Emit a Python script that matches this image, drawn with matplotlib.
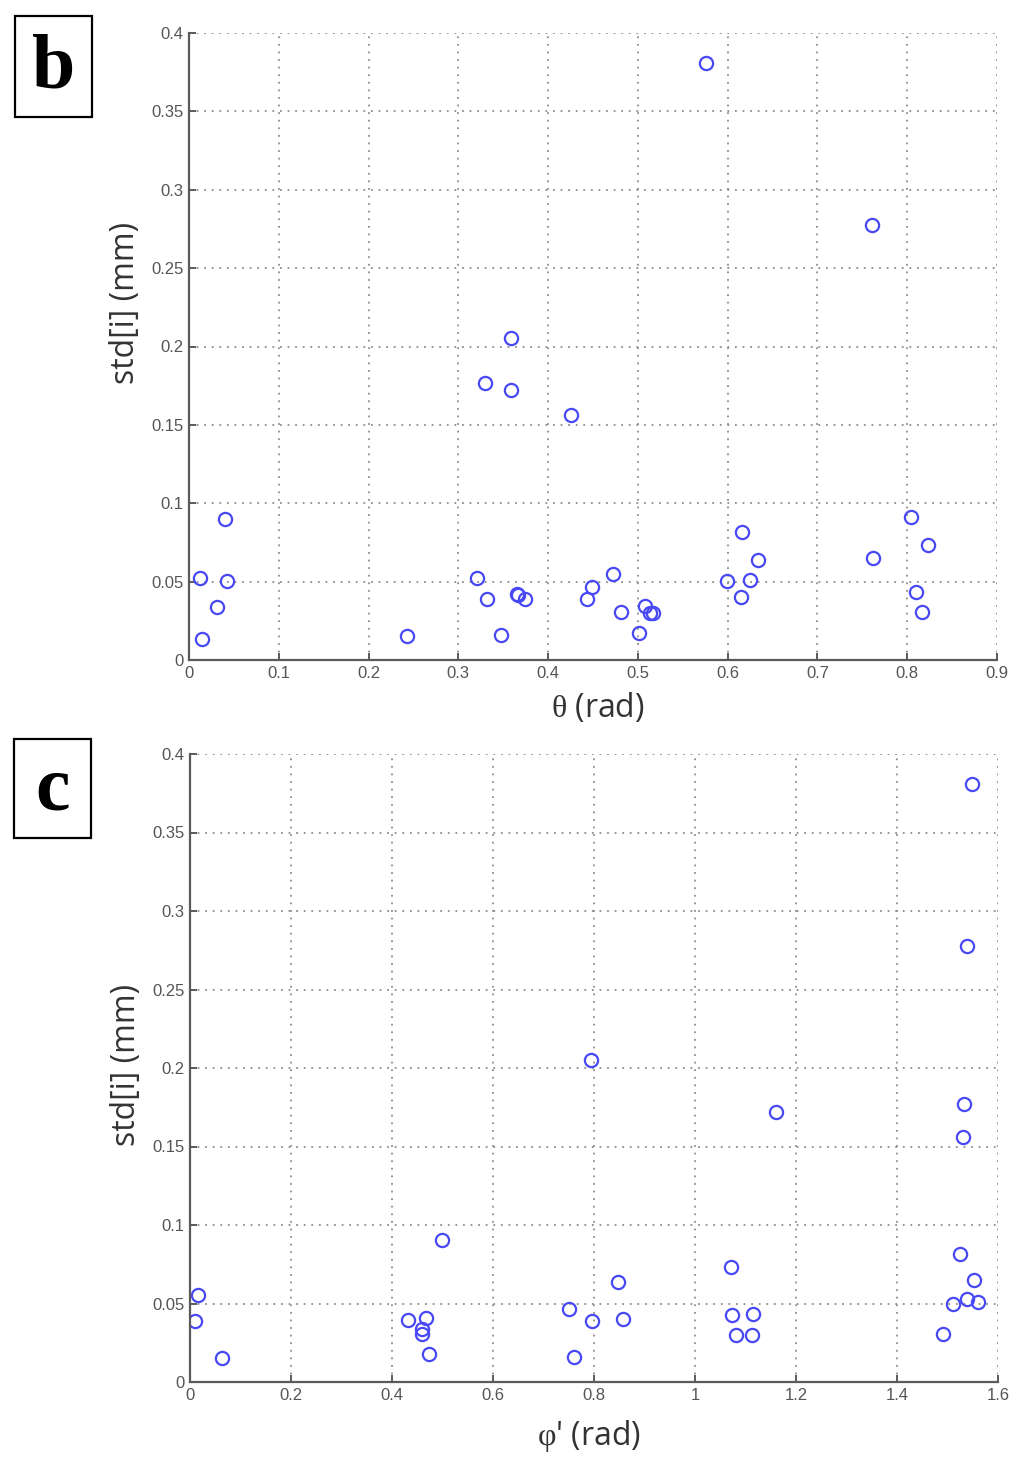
import matplotlib
matplotlib.use("Agg")
import matplotlib.pyplot as plt
from matplotlib.patches import Rectangle

plt.rcParams['mathtext.fontset'] = 'custom'
plt.rcParams['mathtext.rm'] = 'Liberation Serif'

# Panel b: theta (rad) vs std[i] (mm)
theta = [0.040, 0.0123, 0.042, 0.0316, 0.0141, 0.243, 0.321, 0.3315, 0.347,
         0.365, 0.367, 0.374, 0.443, 0.449, 0.4726, 0.481, 0.5016, 0.508,
         0.514, 0.5165, 0.599, 0.6163, 0.6148, 0.625, 0.634, 0.762, 0.8045,
         0.8227, 0.8097, 0.816, 0.3586, 0.3297, 0.3586, 0.4255, 0.5759, 0.7607]
std_b = [0.090, 0.0526, 0.0502, 0.0335, 0.0133, 0.0153, 0.0526, 0.0386, 0.0161,
         0.0424, 0.0413, 0.0392, 0.0392, 0.0466, 0.0551, 0.0307, 0.0174, 0.0343,
         0.0301, 0.0301, 0.0504, 0.0818, 0.0403, 0.0513, 0.0636, 0.065, 0.0911,
         0.0735, 0.0434, 0.0307, 0.2053, 0.1769, 0.1721, 0.1562, 0.3808, 0.2778]

# Panel c: phi' (rad) vs std[i] (mm)
phi = [0.0152, 0.0099, 0.064, 0.431, 0.467, 0.460, 0.460, 0.4727, 0.499,
       0.750, 0.761, 0.7953, 0.8469, 0.8567, 1.0707, 1.0733, 1.1149, 1.0812,
       1.1122, 1.5248, 1.5531, 1.538, 1.5116, 1.561, 1.4905, 1.5485, 1.538,
       1.5327, 1.5307, 0.794, 1.160]
std_c = [0.0551, 0.0386, 0.0151, 0.0392, 0.0409, 0.0339, 0.0305, 0.0176, 0.0907,
         0.0466, 0.0159, 0.039, 0.0634, 0.0403, 0.0733, 0.0424, 0.0432, 0.0299,
         0.0299, 0.0816, 0.0651, 0.0526, 0.0498, 0.0509, 0.0308, 0.381, 0.2776,
         0.177, 0.1558, 0.205, 0.172]

yticks = [0, 0.05, 0.1, 0.15, 0.2, 0.25, 0.3, 0.35, 0.4]
yticklabels = ['0', '0.05', '0.1', '0.15', '0.2', '0.25', '0.3', '0.35', '0.4']
xticks_b = [0, 0.1, 0.2, 0.3, 0.4, 0.5, 0.6, 0.7, 0.8, 0.9]
xticklabels_b = ['0', '0.1', '0.2', '0.3', '0.4', '0.5', '0.6', '0.7', '0.8', '0.9']
xticks_c = [0, 0.2, 0.4, 0.6, 0.8, 1.0, 1.2, 1.4, 1.6]
xticklabels_c = ['0', '0.2', '0.4', '0.6', '0.8', '1', '1.2', '1.4', '1.6']

W, H = 1024, 1459
fig = plt.figure(figsize=(W / 100, H / 100), dpi=100)

def px_rect(x0, y0, x1, y1):
    return [x0 / W, 1 - y1 / H, (x1 - x0) / W, (y1 - y0) / H]

ax_b = fig.add_axes(px_rect(189, 33, 997, 660))
ax_c = fig.add_axes(px_rect(190, 754, 998, 1382))

spine_col = '#5a5a5a'
tick_col = '#555555'
lab_col = '#333333'
mk_col = '#4848f5'

def style(ax, x, y, xmax, xticks, xticklabels, xlabel, ylab_y, xlab_xy):
    ax.plot(x, y, linestyle='none', marker='o', markersize=9.5,
            markerfacecolor='none', markeredgecolor=mk_col, markeredgewidth=1.6)
    ax.set_xlim(0, xmax)
    ax.set_ylim(0, 0.4)
    ax.set_xticks(xticks)
    ax.set_xticklabels(xticklabels)
    ax.set_yticks(yticks)
    ax.set_yticklabels(yticklabels)
    for s in ['top', 'right']:
        ax.spines[s].set_visible(False)
    for s in ['left', 'bottom']:
        ax.spines[s].set_color(spine_col)
        ax.spines[s].set_linewidth(1.6)
    ax.tick_params(direction='in', length=5, width=1.4, color=spine_col,
                   labelcolor=tick_col, labelsize=12, pad=4)
    for lbl in ax.get_xticklabels() + ax.get_yticklabels():
        lbl.set_family('Liberation Sans')
    ax.grid(True, linestyle=(0, (1, 3.2)), color='#8c8c8c', linewidth=1.3)
    ax.set_axisbelow(True)
    ax.set_ylabel('std[i] (mm)', fontsize=23, family='Open Sans', color=lab_col)
    ax.yaxis.set_label_coords(-0.058, ylab_y)
    ax.set_xlabel(xlabel, fontsize=23, family='Open Sans', color=lab_col)
    ax.xaxis.set_label_coords(xlab_xy[0], xlab_xy[1])

style(ax_b, theta, std_b, 0.9, xticks_b, xticklabels_b,
      r'$\mathrm{\theta}$ (rad)', 0.569, (0.506, -0.050))
style(ax_c, phi, std_c, 1.6, xticks_c, xticklabels_c,
      r"$\mathrm{\varphi}$' (rad)", 0.505, (0.494, -0.058))

# panel letters in boxes
for (x0, y0, x1, y1, letter) in [(15, 16, 92, 117, 'b'), (14, 739, 91, 838, 'c')]:
    fig.patches.append(Rectangle((x0 / W, 1 - y1 / H), (x1 - x0) / W, (y1 - y0) / H,
                                 transform=fig.transFigure, fill=False,
                                 edgecolor='black', linewidth=1.6))
    fig.text((x0 + x1) / 2 / W, 1 - ((y0 + y1) / 2 + 3) / H, letter,
             ha='center', va='center', fontsize=56, fontweight='bold',
             family='Liberation Serif', color='black')

fig.savefig('out.png', dpi=100, facecolor='white')
